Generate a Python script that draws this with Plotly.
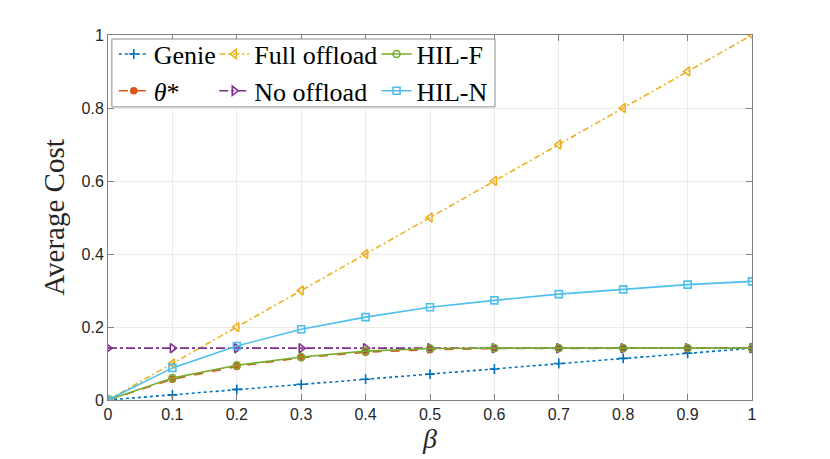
import plotly.graph_objects as go

beta = [0, 0.1, 0.2, 0.3, 0.4, 0.5, 0.6, 0.7, 0.8, 0.9, 1.0]
genie = [0, 0.014, 0.029, 0.043, 0.057, 0.071, 0.085, 0.100, 0.114, 0.128, 0.142]
theta_star = [0, 0.057, 0.092, 0.116, 0.131, 0.138, 0.141, 0.142, 0.142, 0.142, 0.142]
full_offload = [0, 0.1, 0.2, 0.3, 0.4, 0.5, 0.6, 0.7, 0.8, 0.9, 1.0]
no_offload = [0.142, 0.142, 0.142, 0.142, 0.142, 0.142, 0.142, 0.142, 0.142, 0.142, 0.142]
hil_f = [0, 0.060, 0.095, 0.118, 0.134, 0.141, 0.142, 0.142, 0.142, 0.142, 0.142]
hil_n = [0, 0.088, 0.148, 0.194, 0.227, 0.254, 0.273, 0.290, 0.303, 0.316, 0.325]

x_ticks = [0, 0.1, 0.2, 0.3, 0.4, 0.5, 0.6, 0.7, 0.8, 0.9, 1]
x_ticktext = ["0", "0.1", "0.2", "0.3", "0.4", "0.5", "0.6", "0.7", "0.8", "0.9", "1"]
y_ticks = [0, 0.2, 0.4, 0.6, 0.8, 1]
y_ticktext = ["0", "0.2", "0.4", "0.6", "0.8", "1"]

series = [
    ("Genie", genie, "#0072BD", "dot", "cross-thin", 7, "legend"),
    ("<i>θ</i>*", theta_star, "#D95319", "dash", "circle", 6, "legend"),
    ("Full offload", full_offload, "#EDB120", "6px,3px,2px,3px", "triangle-left-open", 8, "legend2"),
    ("No offload", no_offload, "#7E2F8E", "dashdot", "triangle-right-open", 8, "legend2"),
    ("HIL-F", hil_f, "#77AC30", "solid", "circle-open", 7, "legend3"),
    ("HIL-N", hil_n, "#4DBEEE", "solid", "square-open", 7, "legend3"),
]

fig = go.Figure()
for name, vals, color, dash, sym, size, leg in series:
    fig.add_trace(go.Scatter(
        x=beta, y=vals, name=name, mode="lines+markers",
        line=dict(color=color, width=1.6, dash=dash),
        marker=dict(symbol=sym, size=size, color=color,
                    line=dict(color=color, width=1.6)),
        legend=leg,
    ))

serif = "Liberation Serif"
leg_common = dict(
    font=dict(family=serif, size=26, color="#000000"),
    bgcolor="rgba(0,0,0,0)", borderwidth=0,
    itemwidth=30, yanchor="top", xanchor="left",
    tracegroupgap=0,
)

fig.update_layout(
    width=822, height=451,
    margin=dict(l=100, r=78, t=27, b=59),
    paper_bgcolor="white", plot_bgcolor="white",
    showlegend=True,
    legend=dict(x=0.009, y=1.012, **leg_common),
    legend2=dict(x=0.165, y=1.012, **leg_common),
    legend3=dict(x=0.417, y=1.012, **leg_common),
    shapes=[dict(type="rect", xref="paper", yref="paper",
                 x0=0.006, x1=0.601, y0=0.803, y1=0.989,
                 line=dict(color="#8c8c8c", width=1), fillcolor="white",
                 layer="above")],
    xaxis=dict(
        range=[0, 1], tickvals=x_ticks, ticktext=x_ticktext,
        showgrid=True, gridcolor="#ebebeb", gridwidth=1,
        zeroline=False, showline=True, linecolor="#808080", linewidth=1,
        mirror="ticks", ticks="inside", ticklen=6, tickcolor="#808080",
        tickfont=dict(family="Liberation Sans", size=16, color="#262626"),
        title=dict(text="<i>β</i>", font=dict(family=serif, size=28, color="#262626"),
                   standoff=2),
    ),
    yaxis=dict(
        range=[0, 1], tickvals=y_ticks, ticktext=y_ticktext,
        showgrid=True, gridcolor="#ebebeb", gridwidth=1,
        zeroline=False, showline=True, linecolor="#808080", linewidth=1,
        mirror="ticks", ticks="inside", ticklen=6, tickcolor="#808080",
        tickfont=dict(family="Liberation Sans", size=16, color="#262626"),
        title=dict(text="Average Cost", font=dict(family=serif, size=29, color="#262626"),
                   standoff=8),
    ),
)

fig.write_html("out.html")
